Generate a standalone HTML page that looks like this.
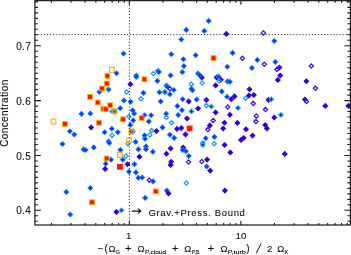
<!DOCTYPE html><html><head><meta charset="utf-8"><title>plot</title><style>html,body{margin:0;padding:0;background:#fff}</style></head><body><svg width="351" height="255" viewBox="0 0 351 255" style="display:block"><rect x="0" y="0" width="351" height="255" fill="#fff"/><g><polygon points="121.25,53.60 123.50,51.35 125.75,53.60 123.50,55.85" fill="#1c18ee" stroke="#0a74ff" stroke-width="1.1"/><rect x="109.52" y="67.52" width="4.76" height="4.76" fill="none" stroke="#ffb020" stroke-width="1.2"/><polygon points="114.25,73.30 116.50,71.05 118.75,73.30 116.50,75.55" fill="#1c18ee" stroke="#0a74ff" stroke-width="1.1"/><polygon points="97.15,91.90 99.40,89.65 101.65,91.90 99.40,94.15" fill="#1c18ee" stroke="#0a74ff" stroke-width="1.1"/><polygon points="106.25,89.50 108.50,87.25 110.75,89.50 108.50,91.75" fill="#1c18ee" stroke="#0a74ff" stroke-width="1.1"/><rect x="104.98" y="73.48" width="4.84" height="4.84" fill="#ff1200" stroke="#ffb400" stroke-width="0.95"/><rect x="104.38" y="81.08" width="4.84" height="4.84" fill="#ff1200" stroke="#ffb400" stroke-width="0.95"/><rect x="99.58" y="86.08" width="4.84" height="4.84" fill="#ff1200" stroke="#ffb400" stroke-width="0.95"/><rect x="87.58" y="94.48" width="4.84" height="4.84" fill="#ff1200" stroke="#ffb400" stroke-width="0.95"/><polygon points="128.05,84.30 130.30,82.05 132.55,84.30 130.30,86.55" fill="#3300dd" stroke="#3300dd" stroke-width="1.1"/><polygon points="124.60,91.90 126.70,89.80 128.80,91.90 126.70,94.00" fill="none" stroke="#1e9bff" stroke-width="1.25"/><polygon points="134.05,75.50 136.30,73.25 138.55,75.50 136.30,77.75" fill="#1c18ee" stroke="#0a74ff" stroke-width="1.1"/><polygon points="134.05,77.00 136.30,74.75 138.55,77.00 136.30,79.25" fill="#1c18ee" stroke="#0a74ff" stroke-width="1.1"/><rect x="141.98" y="76.88" width="4.84" height="4.84" fill="#ff1200" stroke="#ffb400" stroke-width="0.95"/><polygon points="151.30,73.50 153.40,71.40 155.50,73.50 153.40,75.60" fill="none" stroke="#1e9bff" stroke-width="1.25"/><polygon points="155.75,71.00 158.00,68.75 160.25,71.00 158.00,73.25" fill="#1c18ee" stroke="#0a74ff" stroke-width="1.1"/><polygon points="156.75,72.00 159.00,69.75 161.25,72.00 159.00,74.25" fill="#1c18ee" stroke="#0a74ff" stroke-width="1.1"/><polygon points="155.15,80.90 157.40,78.65 159.65,80.90 157.40,83.15" fill="#1c18ee" stroke="#0a74ff" stroke-width="1.1"/><polygon points="141.15,92.90 143.40,90.65 145.65,92.90 143.40,95.15" fill="#1c18ee" stroke="#0a74ff" stroke-width="1.1"/><polygon points="157.25,92.30 159.50,90.05 161.75,92.30 159.50,94.55" fill="#1c18ee" stroke="#0a74ff" stroke-width="1.1"/><polygon points="138.80,98.80 140.90,96.70 143.00,98.80 140.90,100.90" fill="none" stroke="#1e9bff" stroke-width="1.25"/><polygon points="121.65,100.50 123.90,98.25 126.15,100.50 123.90,102.75" fill="#1c18ee" stroke="#0a74ff" stroke-width="1.1"/><rect x="95.28" y="100.08" width="4.84" height="4.84" fill="#ff1200" stroke="#ffb400" stroke-width="0.95"/><polygon points="79.25,113.90 81.50,111.65 83.75,113.90 81.50,116.15" fill="#1c18ee" stroke="#0a74ff" stroke-width="1.1"/><polygon points="88.15,113.50 90.40,111.25 92.65,113.50 90.40,115.75" fill="#1c18ee" stroke="#0a74ff" stroke-width="1.1"/><rect x="51.12" y="119.12" width="4.76" height="4.76" fill="none" stroke="#ffb020" stroke-width="1.2"/><rect x="62.48" y="121.48" width="4.84" height="4.84" fill="#ff1200" stroke="#ffb400" stroke-width="0.95"/><rect x="96.58" y="120.28" width="4.84" height="4.84" fill="#ff1200" stroke="#ffb400" stroke-width="0.95"/><polygon points="88.95,127.50 91.20,125.25 93.45,127.50 91.20,129.75" fill="#3300dd" stroke="#3300dd" stroke-width="1.1"/><polygon points="67.65,131.30 69.90,129.05 72.15,131.30 69.90,133.55" fill="#1c18ee" stroke="#0a74ff" stroke-width="1.1"/><polygon points="72.05,134.50 74.30,132.25 76.55,134.50 74.30,136.75" fill="#1c18ee" stroke="#0a74ff" stroke-width="1.1"/><polygon points="102.35,132.30 104.60,130.05 106.85,132.30 104.60,134.55" fill="#1c18ee" stroke="#0a74ff" stroke-width="1.1"/><polygon points="60.25,144.00 62.50,141.75 64.75,144.00 62.50,146.25" fill="#1c18ee" stroke="#0a74ff" stroke-width="1.1"/><polygon points="81.25,149.40 83.50,147.15 85.75,149.40 83.50,151.65" fill="#1c18ee" stroke="#0a74ff" stroke-width="1.1"/><polygon points="83.25,150.00 85.50,147.75 87.75,150.00 85.50,152.25" fill="#1c18ee" stroke="#0a74ff" stroke-width="1.1"/><polygon points="91.55,147.40 93.80,145.15 96.05,147.40 93.80,149.65" fill="#1c18ee" stroke="#0a74ff" stroke-width="1.1"/><polygon points="64.05,192.00 66.30,189.75 68.55,192.00 66.30,194.25" fill="#1c18ee" stroke="#0a74ff" stroke-width="1.1"/><polygon points="88.15,188.00 90.40,185.75 92.65,188.00 90.40,190.25" fill="#1c18ee" stroke="#0a74ff" stroke-width="1.1"/><rect x="89.58" y="199.88" width="4.84" height="4.84" fill="#ff1200" stroke="#ffb400" stroke-width="0.95"/><polygon points="68.05,214.50 70.30,212.25 72.55,214.50 70.30,216.75" fill="#1c18ee" stroke="#0a74ff" stroke-width="1.1"/><rect x="100.98" y="106.38" width="4.84" height="4.84" fill="#ff1200" stroke="#ffb400" stroke-width="0.95"/><rect x="103.28" y="106.78" width="4.84" height="4.84" fill="#ff1200" stroke="#ffb400" stroke-width="0.95"/><rect x="107.78" y="102.88" width="4.84" height="4.84" fill="#ff1200" stroke="#ffb400" stroke-width="0.95"/><polygon points="110.05,111.40 112.30,109.15 114.55,111.40 112.30,113.65" fill="#1c18ee" stroke="#0a74ff" stroke-width="1.1"/><rect x="112.08" y="108.98" width="4.84" height="4.84" fill="#ff1200" stroke="#ffb400" stroke-width="0.95"/><polygon points="112.40,111.40 114.50,109.30 116.60,111.40 114.50,113.50" fill="none" stroke="#1e9bff" stroke-width="1.25"/><rect x="112.08" y="108.98" width="4.84" height="4.84" fill="none" stroke="#ffb400" stroke-width="0.95"/><polygon points="117.95,108.20 120.20,105.95 122.45,108.20 120.20,110.45" fill="#1c18ee" stroke="#0a74ff" stroke-width="1.1"/><polygon points="128.35,101.80 130.60,99.55 132.85,101.80 130.60,104.05" fill="#1c18ee" stroke="#0a74ff" stroke-width="1.1"/><polygon points="130.45,110.40 132.70,108.15 134.95,110.40 132.70,112.65" fill="#1c18ee" stroke="#0a74ff" stroke-width="1.1"/><polygon points="131.95,113.50 134.20,111.25 136.45,113.50 134.20,115.75" fill="#1c18ee" stroke="#0a74ff" stroke-width="1.1"/><polygon points="126.80,116.40 128.90,114.30 131.00,116.40 128.90,118.50" fill="none" stroke="#1e9bff" stroke-width="1.25"/><rect x="120.58" y="116.88" width="4.84" height="4.84" fill="#ff1200" stroke="#ffb400" stroke-width="0.95"/><polygon points="130.95,120.40 133.20,118.15 135.45,120.40 133.20,122.65" fill="#1c18ee" stroke="#0a74ff" stroke-width="1.1"/><polygon points="128.05,125.00 130.30,122.75 132.55,125.00 130.30,127.25" fill="#1c18ee" stroke="#0a74ff" stroke-width="1.1"/><polygon points="142.25,115.30 144.50,113.05 146.75,115.30 144.50,117.55" fill="#1c18ee" stroke="#0a74ff" stroke-width="1.1"/><rect x="139.18" y="115.58" width="4.84" height="4.84" fill="#ff1200" stroke="#ffb400" stroke-width="0.95"/><polygon points="109.55,128.70 111.80,126.45 114.05,128.70 111.80,130.95" fill="#1c18ee" stroke="#0a74ff" stroke-width="1.1"/><polygon points="115.55,132.20 117.80,129.95 120.05,132.20 117.80,134.45" fill="#1c18ee" stroke="#0a74ff" stroke-width="1.1"/><polygon points="110.00,135.20 112.10,133.10 114.20,135.20 112.10,137.30" fill="none" stroke="#1e9bff" stroke-width="1.25"/><rect x="129.18" y="129.08" width="4.84" height="4.84" fill="#ff1200" stroke="#ffb400" stroke-width="0.95"/><polygon points="130.90,131.40 133.00,129.30 135.10,131.40 133.00,133.50" fill="none" stroke="#1e9bff" stroke-width="1.25"/><rect x="129.18" y="129.08" width="4.84" height="4.84" fill="none" stroke="#ffb400" stroke-width="0.95"/><polygon points="106.25,141.50 108.50,139.25 110.75,141.50 108.50,143.75" fill="#1c18ee" stroke="#0a74ff" stroke-width="1.1"/><polygon points="107.05,143.00 109.30,140.75 111.55,143.00 109.30,145.25" fill="#1c18ee" stroke="#0a74ff" stroke-width="1.1"/><polygon points="125.90,143.70 128.00,141.60 130.10,143.70 128.00,145.80" fill="none" stroke="#1e9bff" stroke-width="1.25"/><rect x="126.82" y="138.12" width="4.76" height="4.76" fill="none" stroke="#ffb020" stroke-width="1.2"/><polygon points="133.35,141.90 135.60,139.65 137.85,141.90 135.60,144.15" fill="#1c18ee" stroke="#0a74ff" stroke-width="1.1"/><polygon points="142.25,135.40 144.50,133.15 146.75,135.40 144.50,137.65" fill="#1c18ee" stroke="#0a74ff" stroke-width="1.1"/><polygon points="142.75,138.70 145.00,136.45 147.25,138.70 145.00,140.95" fill="#1c18ee" stroke="#0a74ff" stroke-width="1.1"/><polygon points="118.15,149.90 120.40,147.65 122.65,149.90 120.40,152.15" fill="#1c18ee" stroke="#0a74ff" stroke-width="1.1"/><polygon points="136.15,149.30 138.40,147.05 140.65,149.30 138.40,151.55" fill="#1c18ee" stroke="#0a74ff" stroke-width="1.1"/><rect x="117.52" y="152.52" width="4.76" height="4.76" fill="none" stroke="#ffb020" stroke-width="1.2"/><polygon points="123.90,156.00 126.00,153.90 128.10,156.00 126.00,158.10" fill="none" stroke="#1e9bff" stroke-width="1.25"/><polygon points="137.25,156.70 139.50,154.45 141.75,156.70 139.50,158.95" fill="#3300dd" stroke="#3300dd" stroke-width="1.1"/><polygon points="108.75,159.70 111.00,157.45 113.25,159.70 111.00,161.95" fill="#1c18ee" stroke="#0a74ff" stroke-width="1.1"/><rect x="104.28" y="156.08" width="4.84" height="4.84" fill="#ff1200" stroke="#ffb400" stroke-width="0.95"/><polygon points="103.45,163.80 105.70,161.55 107.95,163.80 105.70,166.05" fill="#1c18ee" stroke="#0a74ff" stroke-width="1.1"/><polygon points="102.85,168.90 105.10,166.65 107.35,168.90 105.10,171.15" fill="#3300dd" stroke="#3300dd" stroke-width="1.1"/><polygon points="120.55,159.70 122.80,157.45 125.05,159.70 122.80,161.95" fill="#1c18ee" stroke="#0a74ff" stroke-width="1.1"/><rect x="117.48" y="164.38" width="4.84" height="4.84" fill="#ff1010" stroke="#ff1010" stroke-width="0.95"/><polygon points="125.25,164.20 127.50,161.95 129.75,164.20 127.50,166.45" fill="#3300dd" stroke="#3300dd" stroke-width="1.1"/><polygon points="132.25,164.20 134.50,161.95 136.75,164.20 134.50,166.45" fill="#1c18ee" stroke="#0a74ff" stroke-width="1.1"/><polygon points="126.65,171.70 128.90,169.45 131.15,171.70 128.90,173.95" fill="#1c18ee" stroke="#0a74ff" stroke-width="1.1"/><polygon points="133.65,172.40 135.90,170.15 138.15,172.40 135.90,174.65" fill="#1c18ee" stroke="#0a74ff" stroke-width="1.1"/><polygon points="136.15,177.80 138.40,175.55 140.65,177.80 138.40,180.05" fill="#1c18ee" stroke="#0a74ff" stroke-width="1.1"/><polygon points="139.95,177.50 142.20,175.25 144.45,177.50 142.20,179.75" fill="#1c18ee" stroke="#0a74ff" stroke-width="1.1"/><polygon points="114.15,212.00 116.40,209.75 118.65,212.00 116.40,214.25" fill="#3300dd" stroke="#3300dd" stroke-width="1.1"/><polygon points="119.15,210.30 121.40,208.05 123.65,210.30 121.40,212.55" fill="#2414e8" stroke="#10a4ff" stroke-width="1.1"/><polygon points="142.95,197.90 145.20,195.65 147.45,197.90 145.20,200.15" fill="#1c18ee" stroke="#0a74ff" stroke-width="1.1"/><polygon points="184.05,29.90 186.30,27.65 188.55,29.90 186.30,32.15" fill="#1c18ee" stroke="#0a74ff" stroke-width="1.1"/><polygon points="179.05,39.50 181.30,37.25 183.55,39.50 181.30,41.75" fill="#1c18ee" stroke="#0a74ff" stroke-width="1.1"/><polygon points="202.05,30.90 204.30,28.65 206.55,30.90 204.30,33.15" fill="#1c18ee" stroke="#0a74ff" stroke-width="1.1"/><polygon points="206.45,20.90 208.70,18.65 210.95,20.90 208.70,23.15" fill="#1c18ee" stroke="#0a74ff" stroke-width="1.1"/><polygon points="169.05,54.30 171.30,52.05 173.55,54.30 171.30,56.55" fill="#1c18ee" stroke="#0a74ff" stroke-width="1.1"/><polygon points="181.15,59.20 183.40,56.95 185.65,59.20 183.40,61.45" fill="#1c18ee" stroke="#0a74ff" stroke-width="1.1"/><polygon points="181.65,66.10 183.90,63.85 186.15,66.10 183.90,68.35" fill="#1c18ee" stroke="#0a74ff" stroke-width="1.1"/><polygon points="180.05,72.10 182.30,69.85 184.55,72.10 182.30,74.35" fill="#1c18ee" stroke="#0a74ff" stroke-width="1.1"/><polygon points="168.35,75.40 170.60,73.15 172.85,75.40 170.60,77.65" fill="#1c18ee" stroke="#0a74ff" stroke-width="1.1"/><polygon points="164.15,85.60 166.40,83.35 168.65,85.60 166.40,87.85" fill="#1c18ee" stroke="#0a74ff" stroke-width="1.1"/><polygon points="165.05,86.60 167.30,84.35 169.55,86.60 167.30,88.85" fill="#1c18ee" stroke="#0a74ff" stroke-width="1.1"/><polygon points="167.80,88.80 169.90,86.70 172.00,88.80 169.90,90.90" fill="none" stroke="#4411dd" stroke-width="1.25"/><polygon points="162.65,92.10 164.90,89.85 167.15,92.10 164.90,94.35" fill="#1c18ee" stroke="#0a74ff" stroke-width="1.1"/><polygon points="171.55,90.00 173.80,87.75 176.05,90.00 173.80,92.25" fill="#1c18ee" stroke="#0a74ff" stroke-width="1.1"/><polygon points="167.65,94.20 169.90,91.95 172.15,94.20 169.90,96.45" fill="#1c18ee" stroke="#0a74ff" stroke-width="1.1"/><polygon points="158.45,101.40 160.70,99.15 162.95,101.40 160.70,103.65" fill="#1c18ee" stroke="#0a74ff" stroke-width="1.1"/><polygon points="180.45,99.20 182.70,96.95 184.95,99.20 182.70,101.45" fill="#1c18ee" stroke="#0a74ff" stroke-width="1.1"/><polygon points="186.45,101.40 188.70,99.15 190.95,101.40 188.70,103.65" fill="#3300dd" stroke="#3300dd" stroke-width="1.1"/><polygon points="175.05,106.10 177.30,103.85 179.55,106.10 177.30,108.35" fill="#1c18ee" stroke="#0a74ff" stroke-width="1.1"/><polygon points="179.75,110.20 182.00,107.95 184.25,110.20 182.00,112.45" fill="#1c18ee" stroke="#0a74ff" stroke-width="1.1"/><polygon points="148.85,115.30 151.10,113.05 153.35,115.30 151.10,117.55" fill="#1c18ee" stroke="#0a74ff" stroke-width="1.1"/><polygon points="146.55,121.40 148.80,119.15 151.05,121.40 148.80,123.65" fill="#1c18ee" stroke="#0a74ff" stroke-width="1.1"/><polygon points="163.85,113.80 166.10,111.55 168.35,113.80 166.10,116.05" fill="#1c18ee" stroke="#0a74ff" stroke-width="1.1"/><polygon points="164.30,117.50 166.40,115.40 168.50,117.50 166.40,119.60" fill="none" stroke="#1e9bff" stroke-width="1.25"/><polygon points="169.50,122.80 171.60,120.70 173.70,122.80 171.60,124.90" fill="none" stroke="#1e9bff" stroke-width="1.25"/><polygon points="175.95,115.00 178.20,112.75 180.45,115.00 178.20,117.25" fill="#1c18ee" stroke="#0a74ff" stroke-width="1.1"/><polygon points="184.75,118.50 187.00,116.25 189.25,118.50 187.00,120.75" fill="#3300dd" stroke="#3300dd" stroke-width="1.1"/><polygon points="160.25,127.40 162.50,125.15 164.75,127.40 162.50,129.65" fill="#1c18ee" stroke="#0a74ff" stroke-width="1.1"/><polygon points="154.15,131.10 156.40,128.85 158.65,131.10 156.40,133.35" fill="#3300dd" stroke="#3300dd" stroke-width="1.1"/><polygon points="149.60,130.40 151.70,128.30 153.80,130.40 151.70,132.50" fill="none" stroke="#1e9bff" stroke-width="1.25"/><polygon points="147.70,135.00 149.80,132.90 151.90,135.00 149.80,137.10" fill="none" stroke="#1e9bff" stroke-width="1.25"/><polygon points="174.75,128.90 177.00,126.65 179.25,128.90 177.00,131.15" fill="#3300dd" stroke="#3300dd" stroke-width="1.1"/><polygon points="179.05,128.10 181.30,125.85 183.55,128.10 181.30,130.35" fill="#3300dd" stroke="#3300dd" stroke-width="1.1"/><rect x="187.18" y="126.08" width="4.84" height="4.84" fill="#ff1010" stroke="#ff1010" stroke-width="0.95"/><polygon points="183.25,134.40 185.50,132.15 187.75,134.40 185.50,136.65" fill="#3300dd" stroke="#3300dd" stroke-width="1.1"/><polygon points="167.65,134.70 169.90,132.45 172.15,134.70 169.90,136.95" fill="#1c18ee" stroke="#0a74ff" stroke-width="1.1"/><polygon points="171.95,137.90 174.20,135.65 176.45,137.90 174.20,140.15" fill="#1c18ee" stroke="#0a74ff" stroke-width="1.1"/><polygon points="143.75,146.40 146.00,144.15 148.25,146.40 146.00,148.65" fill="#1c18ee" stroke="#0a74ff" stroke-width="1.1"/><polygon points="143.75,149.20 146.00,146.95 148.25,149.20 146.00,151.45" fill="#1c18ee" stroke="#0a74ff" stroke-width="1.1"/><polygon points="150.55,151.80 152.80,149.55 155.05,151.80 152.80,154.05" fill="#1c18ee" stroke="#0a74ff" stroke-width="1.1"/><polygon points="168.35,148.50 170.60,146.25 172.85,148.50 170.60,150.75" fill="#3300dd" stroke="#3300dd" stroke-width="1.1"/><polygon points="164.15,153.80 166.40,151.55 168.65,153.80 166.40,156.05" fill="#3300dd" stroke="#3300dd" stroke-width="1.1"/><polygon points="168.85,161.80 171.10,159.55 173.35,161.80 171.10,164.05" fill="#3300dd" stroke="#3300dd" stroke-width="1.1"/><polygon points="168.35,164.90 170.60,162.65 172.85,164.90 170.60,167.15" fill="#3300dd" stroke="#3300dd" stroke-width="1.1"/><polygon points="180.95,147.50 183.20,145.25 185.45,147.50 183.20,149.75" fill="#3300dd" stroke="#3300dd" stroke-width="1.1"/><polygon points="180.45,150.00 182.70,147.75 184.95,150.00 182.70,152.25" fill="#1c18ee" stroke="#0a74ff" stroke-width="1.1"/><polygon points="183.65,151.20 185.90,148.95 188.15,151.20 185.90,153.45" fill="#1c18ee" stroke="#0a74ff" stroke-width="1.1"/><polygon points="186.55,156.00 188.80,153.75 191.05,156.00 188.80,158.25" fill="#1c18ee" stroke="#0a74ff" stroke-width="1.1"/><polygon points="186.40,162.10 188.50,160.00 190.60,162.10 188.50,164.20" fill="none" stroke="#4411dd" stroke-width="1.25"/><polygon points="147.20,180.20 149.30,178.10 151.40,180.20 149.30,182.30" fill="none" stroke="#4411dd" stroke-width="1.25"/><polygon points="150.85,181.40 153.10,179.15 155.35,181.40 153.10,183.65" fill="#1c18ee" stroke="#0a74ff" stroke-width="1.1"/><rect x="153.28" y="188.98" width="4.84" height="4.84" fill="#ff1200" stroke="#ffb400" stroke-width="0.95"/><polygon points="164.55,190.60 166.80,188.35 169.05,190.60 166.80,192.85" fill="#1c18ee" stroke="#0a74ff" stroke-width="1.1"/><polygon points="166.25,193.50 168.50,191.25 170.75,193.50 168.50,195.75" fill="#3300dd" stroke="#3300dd" stroke-width="1.1"/><polygon points="184.20,183.10 186.30,181.00 188.40,183.10 186.30,185.20" fill="none" stroke="#1e9bff" stroke-width="1.25"/><polygon points="193.45,55.20 195.70,52.95 197.95,55.20 195.70,57.45" fill="#1c18ee" stroke="#0a74ff" stroke-width="1.1"/><rect x="211.08" y="55.68" width="4.84" height="4.84" fill="#ff1200" stroke="#ffb400" stroke-width="0.95"/><polygon points="230.35,52.90 232.60,50.65 234.85,52.90 232.60,55.15" fill="#1c18ee" stroke="#0a74ff" stroke-width="1.1"/><polygon points="225.05,66.80 227.30,64.55 229.55,66.80 227.30,69.05" fill="#1c18ee" stroke="#0a74ff" stroke-width="1.1"/><polygon points="199.55,77.40 201.80,75.15 204.05,77.40 201.80,79.65" fill="#3300dd" stroke="#3300dd" stroke-width="1.1"/><polygon points="195.75,73.50 198.00,71.25 200.25,73.50 198.00,75.75" fill="#1c18ee" stroke="#0a74ff" stroke-width="1.1"/><polygon points="197.55,75.30 199.80,73.05 202.05,75.30 199.80,77.55" fill="#1c18ee" stroke="#0a74ff" stroke-width="1.1"/><polygon points="200.00,83.10 202.10,81.00 204.20,83.10 202.10,85.20" fill="none" stroke="#1e9bff" stroke-width="1.25"/><polygon points="189.30,84.20 191.40,82.10 193.50,84.20 191.40,86.30" fill="none" stroke="#1e9bff" stroke-width="1.25"/><polygon points="189.15,88.80 191.40,86.55 193.65,88.80 191.40,91.05" fill="#1c18ee" stroke="#0a74ff" stroke-width="1.1"/><polygon points="190.15,90.20 192.40,87.95 194.65,90.20 192.40,92.45" fill="#1c18ee" stroke="#0a74ff" stroke-width="1.1"/><polygon points="214.35,77.40 216.60,75.15 218.85,77.40 216.60,79.65" fill="#3300dd" stroke="#3300dd" stroke-width="1.1"/><polygon points="216.25,76.50 218.50,74.25 220.75,76.50 218.50,78.75" fill="#1c18ee" stroke="#0a74ff" stroke-width="1.1"/><polygon points="218.65,79.70 220.90,77.45 223.15,79.70 220.90,81.95" fill="#3300dd" stroke="#3300dd" stroke-width="1.1"/><polygon points="217.10,81.10 219.20,79.00 221.30,81.10 219.20,83.20" fill="none" stroke="#1e9bff" stroke-width="1.25"/><polygon points="225.25,81.40 227.50,79.15 229.75,81.40 227.50,83.65" fill="#1c18ee" stroke="#0a74ff" stroke-width="1.1"/><polygon points="227.65,81.70 229.90,79.45 232.15,81.70 229.90,83.95" fill="#1c18ee" stroke="#0a74ff" stroke-width="1.1"/><polygon points="213.35,85.40 215.60,83.15 217.85,85.40 215.60,87.65" fill="#3300dd" stroke="#3300dd" stroke-width="1.1"/><polygon points="219.55,91.40 221.80,89.15 224.05,91.40 221.80,93.65" fill="#1c18ee" stroke="#0a74ff" stroke-width="1.1"/><polygon points="224.75,96.80 227.00,94.55 229.25,96.80 227.00,99.05" fill="#1c18ee" stroke="#0a74ff" stroke-width="1.1"/><polygon points="228.95,99.30 231.20,97.05 233.45,99.30 231.20,101.55" fill="#3300dd" stroke="#3300dd" stroke-width="1.1"/><polygon points="232.25,96.40 234.50,94.15 236.75,96.40 234.50,98.65" fill="#3300dd" stroke="#3300dd" stroke-width="1.1"/><polygon points="194.45,99.50 196.70,97.25 198.95,99.50 196.70,101.75" fill="#1c18ee" stroke="#0a74ff" stroke-width="1.1"/><polygon points="204.15,99.90 206.40,97.65 208.65,99.90 206.40,102.15" fill="#3300dd" stroke="#3300dd" stroke-width="1.1"/><polygon points="204.30,105.50 206.40,103.40 208.50,105.50 206.40,107.60" fill="none" stroke="#1e9bff" stroke-width="1.25"/><polygon points="209.15,106.50 211.40,104.25 213.65,106.50 211.40,108.75" fill="#2414e8" stroke="#10a4ff" stroke-width="1.1"/><polygon points="195.85,108.50 198.10,106.25 200.35,108.50 198.10,110.75" fill="#3300dd" stroke="#3300dd" stroke-width="1.1"/><polygon points="189.15,111.40 191.40,109.15 193.65,111.40 191.40,113.65" fill="#2414e8" stroke="#10a4ff" stroke-width="1.1"/><polygon points="213.35,112.50 215.60,110.25 217.85,112.50 215.60,114.75" fill="#3300dd" stroke="#3300dd" stroke-width="1.1"/><polygon points="225.60,107.10 227.70,105.00 229.80,107.10 227.70,109.20" fill="none" stroke="#4411dd" stroke-width="1.25"/><polygon points="227.65,114.80 229.90,112.55 232.15,114.80 229.90,117.05" fill="#3300dd" stroke="#3300dd" stroke-width="1.1"/><polygon points="211.10,120.40 213.20,118.30 215.30,120.40 213.20,122.50" fill="none" stroke="#4411dd" stroke-width="1.25"/><polygon points="207.65,125.40 209.90,123.15 212.15,125.40 209.90,127.65" fill="#3300dd" stroke="#3300dd" stroke-width="1.1"/><polygon points="205.70,129.50 207.80,127.40 209.90,129.50 207.80,131.60" fill="none" stroke="#4411dd" stroke-width="1.25"/><polygon points="222.25,122.80 224.50,120.55 226.75,122.80 224.50,125.05" fill="#3300dd" stroke="#3300dd" stroke-width="1.1"/><polygon points="220.95,128.50 223.20,126.25 225.45,128.50 223.20,130.75" fill="#3300dd" stroke="#3300dd" stroke-width="1.1"/><polygon points="212.15,136.90 214.40,134.65 216.65,136.90 214.40,139.15" fill="#1c18ee" stroke="#0a74ff" stroke-width="1.1"/><polygon points="203.45,138.30 205.70,136.05 207.95,138.30 205.70,140.55" fill="#1c18ee" stroke="#0a74ff" stroke-width="1.1"/><polygon points="200.55,143.10 202.80,140.85 205.05,143.10 202.80,145.35" fill="#2414e8" stroke="#10a4ff" stroke-width="1.1"/><polygon points="200.55,145.00 202.80,142.75 205.05,145.00 202.80,147.25" fill="#2414e8" stroke="#10a4ff" stroke-width="1.1"/><polygon points="212.10,143.80 214.20,141.70 216.30,143.80 214.20,145.90" fill="none" stroke="#1e9bff" stroke-width="1.25"/><polygon points="222.35,145.00 224.60,142.75 226.85,145.00 224.60,147.25" fill="#3300dd" stroke="#3300dd" stroke-width="1.1"/><polygon points="228.15,152.50 230.40,150.25 232.65,152.50 230.40,154.75" fill="#3300dd" stroke="#3300dd" stroke-width="1.1"/><polygon points="199.70,161.60 201.80,159.50 203.90,161.60 201.80,163.70" fill="none" stroke="#4411dd" stroke-width="1.25"/><polygon points="204.85,159.60 207.10,157.35 209.35,159.60 207.10,161.85" fill="#3300dd" stroke="#3300dd" stroke-width="1.1"/><polygon points="204.45,166.50 206.70,164.25 208.95,166.50 206.70,168.75" fill="#1c18ee" stroke="#0a74ff" stroke-width="1.1"/><polygon points="207.95,170.70 210.20,168.45 212.45,170.70 210.20,172.95" fill="#3300dd" stroke="#3300dd" stroke-width="1.1"/><polygon points="222.65,190.60 224.90,188.35 227.15,190.60 224.90,192.85" fill="#3300dd" stroke="#3300dd" stroke-width="1.1"/><polygon points="224.05,33.90 226.30,31.65 228.55,33.90 226.30,36.15" fill="#3300dd" stroke="#3300dd" stroke-width="1.1"/><polygon points="261.30,32.90 263.40,30.80 265.50,32.90 263.40,35.00" fill="none" stroke="#4411dd" stroke-width="1.25"/><polygon points="272.05,41.00 274.30,38.75 276.55,41.00 274.30,43.25" fill="#1c18ee" stroke="#0a74ff" stroke-width="1.1"/><polygon points="240.30,58.30 242.40,56.20 244.50,58.30 242.40,60.40" fill="none" stroke="#4411dd" stroke-width="1.25"/><polygon points="255.05,59.90 257.30,57.65 259.55,59.90 257.30,62.15" fill="#1c18ee" stroke="#0a74ff" stroke-width="1.1"/><polygon points="262.20,64.30 264.30,62.20 266.40,64.30 264.30,66.40" fill="none" stroke="#4411dd" stroke-width="1.25"/><polygon points="249.65,67.90 251.90,65.65 254.15,67.90 251.90,70.15" fill="#1c18ee" stroke="#0a74ff" stroke-width="1.1"/><polygon points="273.05,61.90 275.30,59.65 277.55,61.90 275.30,64.15" fill="#1c18ee" stroke="#0a74ff" stroke-width="1.1"/><polygon points="274.80,69.50 276.90,67.40 279.00,69.50 276.90,71.60" fill="none" stroke="#4411dd" stroke-width="1.25"/><polygon points="277.25,67.50 279.50,65.25 281.75,67.50 279.50,69.75" fill="#3300dd" stroke="#3300dd" stroke-width="1.1"/><polygon points="278.05,75.50 280.30,73.25 282.55,75.50 280.30,77.75" fill="#3300dd" stroke="#3300dd" stroke-width="1.1"/><polygon points="275.65,79.90 277.90,77.65 280.15,79.90 277.90,82.15" fill="#3300dd" stroke="#3300dd" stroke-width="1.1"/><polygon points="247.25,89.20 249.50,86.95 251.75,89.20 249.50,91.45" fill="#3300dd" stroke="#3300dd" stroke-width="1.1"/><polygon points="251.65,95.00 253.90,92.75 256.15,95.00 253.90,97.25" fill="#3300dd" stroke="#3300dd" stroke-width="1.1"/><polygon points="246.65,95.60 248.90,93.35 251.15,95.60 248.90,97.85" fill="#3300dd" stroke="#3300dd" stroke-width="1.1"/><polygon points="243.50,98.30 245.60,96.20 247.70,98.30 245.60,100.40" fill="none" stroke="#1e9bff" stroke-width="1.25"/><polygon points="251.20,103.50 253.30,101.40 255.40,103.50 253.30,105.60" fill="none" stroke="#4411dd" stroke-width="1.25"/><polygon points="235.75,107.90 238.00,105.65 240.25,107.90 238.00,110.15" fill="#2414e8" stroke="#10a4ff" stroke-width="1.1"/><polygon points="266.25,99.90 268.50,97.65 270.75,99.90 268.50,102.15" fill="#3300dd" stroke="#3300dd" stroke-width="1.1"/><polygon points="269.05,99.30 271.30,97.05 273.55,99.30 271.30,101.55" fill="#2414e8" stroke="#10a4ff" stroke-width="1.1"/><polygon points="263.40,109.50 265.50,107.40 267.60,109.50 265.50,111.60" fill="none" stroke="#4411dd" stroke-width="1.25"/><polygon points="254.20,115.90 256.30,113.80 258.40,115.90 256.30,118.00" fill="none" stroke="#4411dd" stroke-width="1.25"/><polygon points="253.80,121.50 255.90,119.40 258.00,121.50 255.90,123.60" fill="none" stroke="#4411dd" stroke-width="1.25"/><polygon points="278.65,114.90 280.90,112.65 283.15,114.90 280.90,117.15" fill="#2414e8" stroke="#10a4ff" stroke-width="1.1"/><polygon points="272.05,117.50 274.30,115.25 276.55,117.50 274.30,119.75" fill="#3300dd" stroke="#3300dd" stroke-width="1.1"/><polygon points="235.15,122.90 237.40,120.65 239.65,122.90 237.40,125.15" fill="#3300dd" stroke="#3300dd" stroke-width="1.1"/><polygon points="262.95,125.00 265.20,122.75 267.45,125.00 265.20,127.25" fill="#3300dd" stroke="#3300dd" stroke-width="1.1"/><polygon points="264.65,128.50 266.90,126.25 269.15,128.50 266.90,130.75" fill="#3300dd" stroke="#3300dd" stroke-width="1.1"/><polygon points="243.75,129.20 246.00,126.95 248.25,129.20 246.00,131.45" fill="#3300dd" stroke="#3300dd" stroke-width="1.1"/><polygon points="250.25,135.60 252.50,133.35 254.75,135.60 252.50,137.85" fill="#3300dd" stroke="#3300dd" stroke-width="1.1"/><polygon points="241.35,138.00 243.60,135.75 245.85,138.00 243.60,140.25" fill="#3300dd" stroke="#3300dd" stroke-width="1.1"/><polygon points="238.75,140.00 241.00,137.75 243.25,140.00 241.00,142.25" fill="#3300dd" stroke="#3300dd" stroke-width="1.1"/><polygon points="282.55,153.90 284.80,151.65 287.05,153.90 284.80,156.15" fill="#3300dd" stroke="#3300dd" stroke-width="1.1"/><polygon points="309.20,65.90 311.30,63.80 313.40,65.90 311.30,68.00" fill="none" stroke="#4411dd" stroke-width="1.25"/><polygon points="304.05,81.30 306.30,79.05 308.55,81.30 306.30,83.55" fill="#3300dd" stroke="#3300dd" stroke-width="1.1"/><polygon points="313.40,88.30 315.50,86.20 317.60,88.30 315.50,90.40" fill="none" stroke="#4411dd" stroke-width="1.25"/><polygon points="302.65,99.50 304.90,97.25 307.15,99.50 304.90,101.75" fill="#3300dd" stroke="#3300dd" stroke-width="1.1"/><polygon points="304.40,101.50 306.50,99.40 308.60,101.50 306.50,103.60" fill="none" stroke="#4411dd" stroke-width="1.25"/><polygon points="323.05,105.90 325.30,103.65 327.55,105.90 325.30,108.15" fill="#3300dd" stroke="#3300dd" stroke-width="1.1"/><polygon points="346.15,105.90 348.40,103.65 350.65,105.90 348.40,108.15" fill="#3300dd" stroke="#3300dd" stroke-width="1.1"/></g><line x1="129.4" y1="1.72" x2="129.4" y2="225" stroke="#2a2a2a" stroke-width="1" stroke-dasharray="1.1 1.98"/><line x1="34.64" y1="34.6" x2="350.4" y2="34.6" stroke="#2a2a2a" stroke-width="1" stroke-dasharray="1.1 1.98"/><rect x="34.9" y="0.65" width="315.5" height="224.35" fill="none" stroke="#1a1a1a" stroke-width="1.2"/><path d="M34.9 221.27h3M350.4 221.27h-3M34.9 215.79h3M350.4 215.79h-3M34.9 210.30h6M350.4 210.30h-6M34.9 204.82h3M350.4 204.82h-3M34.9 199.33h3M350.4 199.33h-3M34.9 193.85h3M350.4 193.85h-3M34.9 188.36h3M350.4 188.36h-3M34.9 182.88h3M350.4 182.88h-3M34.9 177.39h3M350.4 177.39h-3M34.9 171.91h3M350.4 171.91h-3M34.9 166.42h3M350.4 166.42h-3M34.9 160.94h3M350.4 160.94h-3M34.9 155.45h6M350.4 155.45h-6M34.9 149.97h3M350.4 149.97h-3M34.9 144.48h3M350.4 144.48h-3M34.9 139.00h3M350.4 139.00h-3M34.9 133.51h3M350.4 133.51h-3M34.9 128.03h3M350.4 128.03h-3M34.9 122.54h3M350.4 122.54h-3M34.9 117.06h3M350.4 117.06h-3M34.9 111.57h3M350.4 111.57h-3M34.9 106.09h3M350.4 106.09h-3M34.9 100.60h6M350.4 100.60h-6M34.9 95.12h3M350.4 95.12h-3M34.9 89.63h3M350.4 89.63h-3M34.9 84.15h3M350.4 84.15h-3M34.9 78.66h3M350.4 78.66h-3M34.9 73.18h3M350.4 73.18h-3M34.9 67.69h3M350.4 67.69h-3M34.9 62.21h3M350.4 62.21h-3M34.9 56.72h3M350.4 56.72h-3M34.9 51.24h3M350.4 51.24h-3M34.9 45.75h6M350.4 45.75h-6M34.9 40.27h3M350.4 40.27h-3M34.9 34.78h3M350.4 34.78h-3M34.9 29.30h3M350.4 29.30h-3M34.9 23.81h3M350.4 23.81h-3M34.9 18.33h3M350.4 18.33h-3M34.9 12.84h3M350.4 12.84h-3M34.9 7.36h3M350.4 7.36h-3M34.9 1.87h3M350.4 1.87h-3M51.46 225v-2M51.46 0.65v2M71.10 225v-2M71.10 0.65v2M85.03 225v-2M85.03 0.65v2M95.84 225v-2M95.84 0.65v2M104.66 225v-2M104.66 0.65v2M112.13 225v-2M112.13 0.65v2M118.59 225v-2M118.59 0.65v2M124.30 225v-2M124.30 0.65v2M129.40 225v-4M129.40 0.65v4M162.96 225v-2M162.96 0.65v2M182.60 225v-2M182.60 0.65v2M196.53 225v-2M196.53 0.65v2M207.34 225v-2M207.34 0.65v2M216.16 225v-2M216.16 0.65v2M223.63 225v-2M223.63 0.65v2M230.09 225v-2M230.09 0.65v2M235.80 225v-2M235.80 0.65v2M240.90 225v-4M240.90 0.65v4M274.46 225v-2M274.46 0.65v2M294.10 225v-2M294.10 0.65v2M308.03 225v-2M308.03 0.65v2M318.84 225v-2M318.84 0.65v2M327.66 225v-2M327.66 0.65v2M335.13 225v-2M335.13 0.65v2M341.59 225v-2M341.59 0.65v2M347.30 225v-2M347.30 0.65v2" stroke="#1a1a1a" stroke-width="1.1" fill="none"/><text x="31" y="214.4" font-size="10" text-anchor="end" letter-spacing="0.3" font-family="Liberation Sans, sans-serif" fill="#111" stroke="#111" stroke-width="0.12">0.4</text><text x="31" y="159.6" font-size="10" text-anchor="end" letter-spacing="0.3" font-family="Liberation Sans, sans-serif" fill="#111" stroke="#111" stroke-width="0.12">0.5</text><text x="31" y="104.7" font-size="10" text-anchor="end" letter-spacing="0.3" font-family="Liberation Sans, sans-serif" fill="#111" stroke="#111" stroke-width="0.12">0.6</text><text x="31" y="49.9" font-size="10" text-anchor="end" letter-spacing="0.3" font-family="Liberation Sans, sans-serif" fill="#111" stroke="#111" stroke-width="0.12">0.7</text><text x="128.7" y="239.4" font-size="9.8" text-anchor="middle" font-family="Liberation Sans, sans-serif" fill="#111" stroke="#111" stroke-width="0.12">1</text><text x="241" y="239.4" font-size="9.8" text-anchor="middle" font-family="Liberation Sans, sans-serif" fill="#111" stroke="#111" stroke-width="0.12">10</text><text transform="translate(7.9,146.8) rotate(-90)" font-size="10" textLength="67" font-family="Liberation Sans, sans-serif" fill="#111" stroke="#111" stroke-width="0.12">Concentration</text><text x="100.45" y="251.8" font-size="9.4" text-anchor="middle" font-family="Liberation Sans, sans-serif" fill="#111" stroke="#111" stroke-width="0.12">−</text><text x="106.10" y="251.5" font-size="10" text-anchor="middle" font-family="Liberation Sans, sans-serif" fill="#111" stroke="#111" stroke-width="0.12">(</text><text x="112.10" y="251.8" font-size="9.4" text-anchor="middle" font-family="Liberation Sans, sans-serif" fill="#111" stroke="#111" stroke-width="0.12">Ω</text><text x="117.65" y="254" font-size="5.8" text-anchor="middle" font-family="Liberation Sans, sans-serif" fill="#111" stroke="#111" stroke-width="0.12">G</text><text x="128.25" y="252.1" font-size="11" text-anchor="middle" font-family="Liberation Sans, sans-serif" fill="#111" stroke="#111" stroke-width="0.12">+</text><text x="141.05" y="251.8" font-size="9.4" text-anchor="middle" font-family="Liberation Sans, sans-serif" fill="#111" stroke="#111" stroke-width="0.12">Ω</text><text x="145.00" y="254" font-size="5.8" textLength="21.20" lengthAdjust="spacingAndGlyphs" font-family="Liberation Sans, sans-serif" fill="#111" stroke="#111" stroke-width="0.12">P,cloud</text><text x="175.20" y="252.1" font-size="11" text-anchor="middle" font-family="Liberation Sans, sans-serif" fill="#111" stroke="#111" stroke-width="0.12">+</text><text x="187.85" y="251.8" font-size="9.4" text-anchor="middle" font-family="Liberation Sans, sans-serif" fill="#111" stroke="#111" stroke-width="0.12">Ω</text><text x="191.80" y="254" font-size="5.8" textLength="7.60" lengthAdjust="spacingAndGlyphs" font-family="Liberation Sans, sans-serif" fill="#111" stroke="#111" stroke-width="0.12">P,B</text><text x="211.00" y="252.1" font-size="11" text-anchor="middle" font-family="Liberation Sans, sans-serif" fill="#111" stroke="#111" stroke-width="0.12">+</text><text x="224.05" y="251.8" font-size="9.4" text-anchor="middle" font-family="Liberation Sans, sans-serif" fill="#111" stroke="#111" stroke-width="0.12">Ω</text><text x="227.80" y="254" font-size="5.8" textLength="18.00" lengthAdjust="spacingAndGlyphs" font-family="Liberation Sans, sans-serif" fill="#111" stroke="#111" stroke-width="0.12">P,turb</text><text x="247.90" y="251.5" font-size="10" text-anchor="middle" font-family="Liberation Sans, sans-serif" fill="#111" stroke="#111" stroke-width="0.12">)</text><text transform="translate(257.6,253.2) skewX(-13)" font-size="13.2" text-anchor="middle" font-family="Liberation Sans, sans-serif" fill="#111">/</text><text x="269.60" y="251.8" font-size="9.4" text-anchor="middle" font-family="Liberation Sans, sans-serif" fill="#111" stroke="#111" stroke-width="0.12">2</text><text x="280.85" y="251.8" font-size="9.4" text-anchor="middle" font-family="Liberation Sans, sans-serif" fill="#111" stroke="#111" stroke-width="0.12">Ω</text><text x="286.40" y="254" font-size="5.8" text-anchor="middle" font-family="Liberation Sans, sans-serif" fill="#111" stroke="#111" stroke-width="0.12">K</text><text x="148.4" y="216.4" font-size="9.5" textLength="96.5" font-family="Liberation Sans, sans-serif" fill="#111" stroke="#111" stroke-width="0.12">Grav.+Press. Bound</text><path d="M131.8 211.1h8.6M137.8 208.6l3 2.5l-3 2.5" stroke="#111" stroke-width="1.1" fill="none"/></svg></body></html>
